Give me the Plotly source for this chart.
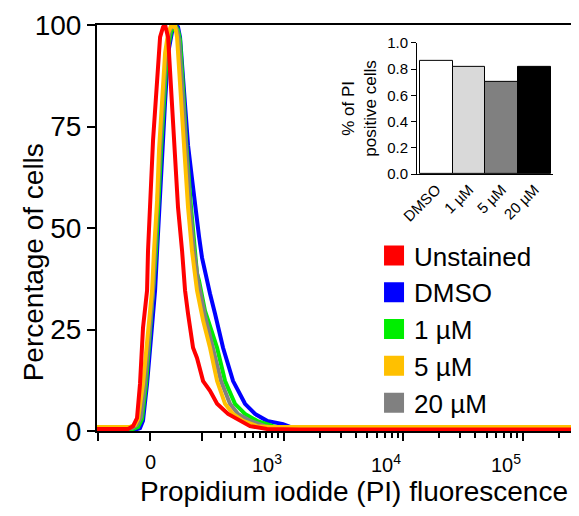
import numpy as np
import plotly.graph_objects as go

# ---------------- data ----------------
# x in biexponential display units (decades; 0 -> value 0), y in % of max
series_names = ["Unstained", "DMSO", "1 µM", "5 µM", "20 µM"]
series_colors = ["#ff0000", "#0000ff", "#00ee00", "#ffc000", "#808080"]

unstained_x = [-0.444, -0.184, -0.142, -0.109, -0.084, -0.059, -0.025, -0.017, 0.025, 0.059, 0.084, 0.109,
               0.126, 0.151, 0.176, 0.201, 0.234, 0.268, 0.293, 0.318, 0.335, 0.360, 0.393, 0.444, 0.502,
               0.561, 0.653, 0.753, 0.837, 0.979, 1.255, 3.54]
unstained_y = [0.5, 0.5, 1.2, 3.2, 11.6, 25.4, 34.6, 44.4, 71.6, 84.7, 97.0, 99.5,
               100, 97.0, 84.7, 69.1, 55.1, 44.4, 34.6, 28.9, 25.4, 20.5, 18.0, 12.3, 9.9,
               6.7, 4.2, 2.5, 1.2, 0.5, 0.4, 0.4]

dmso_x = [-0.444, -0.126, -0.084, -0.059, -0.025, 0.0, 0.042, 0.059, 0.084, 0.100, 0.126, 0.151, 0.184,
          0.218, 0.234, 0.251, 0.285, 0.318, 0.351, 0.377, 0.410, 0.435, 0.460, 0.469, 0.485, 0.502,
          0.544, 0.611, 0.695, 0.795, 0.879, 0.979, 1.113, 1.172, 1.255, 3.54]
dmso_y = [0.3, 0.3, 0.7, 2.5, 11.6, 20.2, 34.6, 44.4, 59.3, 69.1, 81.2, 93.1, 98.3,
          100, 99.5, 97.0, 84.7, 70.4, 62.2, 55.1, 47.9, 42.7, 39.0, 38.0, 36.3, 33.8,
          28.9, 20.5, 12.3, 6.7, 4.2, 2.5, 1.7, 1.0, 0.5, 0.3]

um1_x = [-0.444, -0.142, -0.100, -0.067, -0.033, 0.0, 0.033, 0.050, 0.092, 0.142, 0.176, 0.209, 0.234,
         0.251, 0.276, 0.301, 0.343, 0.377, 0.393, 0.410, 0.460, 0.561, 0.628, 0.711, 0.795, 0.895,
         1.029, 1.130, 3.54]
um1_y = [0.5, 0.5, 1.0, 3.0, 11.6, 24.7, 34.6, 44.4, 69.1, 93.1, 98.3, 100, 98.8,
         96.3, 84.7, 71.6, 55.1, 44.4, 38.8, 37.0, 29.6, 20.5, 12.3, 6.7, 4.2, 2.5,
         1.2, 0.5, 0.3]

um5_x = [-0.444, -0.167, -0.126, -0.100, -0.059, -0.017, 0.017, 0.033, 0.059, 0.075, 0.100, 0.126,
         0.151, 0.176, 0.201, 0.209, 0.226, 0.251, 0.285, 0.318, 0.351, 0.377, 0.393, 0.444, 0.502,
         0.561, 0.628, 0.695, 0.778, 0.895, 1.004, 3.54]
um5_y = [1.0, 1.0, 1.5, 3.0, 11.6, 25.4, 34.6, 44.4, 56.8, 69.1, 81.5, 93.1,
         98.0, 99.8, 99.5, 100, 97.0, 84.7, 71.6, 55.1, 44.4, 37.0, 34.6, 27.2, 20.5,
         12.3, 6.7, 4.2, 2.5, 1.2, 1.0, 1.0]

um20_x = [-0.444, -0.151, -0.109, -0.075, -0.042, 0.0, 0.025, 0.042, 0.084, 0.134, 0.167, 0.201, 0.226,
          0.243, 0.268, 0.293, 0.335, 0.368, 0.402, 0.460, 0.527, 0.594, 0.669, 0.736, 0.837, 0.962,
          1.088, 3.54]
um20_y = [0.7, 0.7, 1.5, 3.5, 11.6, 25.4, 34.6, 44.4, 69.1, 93.1, 98.8, 100, 98.8,
          96.3, 84.7, 71.6, 55.1, 44.4, 37.0, 28.4, 20.5, 12.3, 6.7, 4.2, 2.5, 1.2,
          0.7, 0.5]

# axis ticks (display units) and labels
major_tick_pos = [-0.435, 0.0, 0.435, 1.12, 2.12, 3.12]
label_tick_pos = [0.0, 1.12, 2.12, 3.12]
label_tick_text = ["0", "10<sup>3</sup>", "10<sup>4</sup>", "10<sup>5</sup>"]
minor_100_1000 = [0.594, 0.711, 0.795, 0.862, 0.921, 0.971, 1.021, 1.071]

# inset bar chart
inset_categories = ["DMSO", "1 µM", "5 µM", "20 µM"]
inset_values = [0.86, 0.82, 0.70, 0.82]
inset_colors = ["#ffffff", "#d9d9d9", "#808080", "#000000"]

# --------------- figure ---------------
FONT = "Liberation Sans, Arial, sans-serif"
fig = go.Figure()

curves = {
    "Unstained": (unstained_x, unstained_y),
    "DMSO": (dmso_x, dmso_y),
    "1 µM": (um1_x, um1_y),
    "5 µM": (um5_x, um5_y),
    "20 µM": (um20_x, um20_y),
}
color_of = dict(zip(series_names, series_colors))
draw_order = ["DMSO", "1 µM", "20 µM", "5 µM", "Unstained"]
for name in draw_order:
    xs, ys = curves[name]
    fig.add_trace(go.Scatter(x=xs, y=ys, mode="lines", name=name, showlegend=False,
                             line=dict(color=color_of[name], width=4), hoverinfo="skip"))

# legend entries (filled squares)
for i, name in enumerate(series_names):
    fig.add_trace(go.Scatter(x=[None], y=[None], mode="markers", name=name, legendrank=i + 1,
                             marker=dict(symbol="square", size=16, color=color_of[name],
                                         line=dict(color=color_of[name], width=4))))

# inset bars
fig.add_trace(go.Bar(x=inset_categories, y=inset_values, xaxis="x2", yaxis="y2", showlegend=False,
                     marker=dict(color=inset_colors, line=dict(color="black", width=1)), width=1.0))

minor_ticks = list(minor_100_1000)
for base in [1.12, 2.12]:
    minor_ticks += [base + float(np.log10(m)) for m in range(2, 10)]
minor_ticks.append(3.12 + float(np.log10(2)))

# the page body adds an 8px offset; margins compensate for it
fig.update_layout(
    width=579, height=516,
    margin=dict(l=89, r=14, t=17, b=93, autoexpand=False),
    paper_bgcolor="white", plot_bgcolor="white",
    font=dict(family=FONT, color="black"),
    xaxis=dict(range=[-0.444, 3.54], showgrid=False, zeroline=False, automargin=False,
               showline=True, linecolor="black", linewidth=2, mirror=True,
               tickmode="array", tickvals=major_tick_pos, showticklabels=False,
               ticks="outside", ticklen=8, tickwidth=2, tickcolor="black",
               minor=dict(tickmode="array", tickvals=minor_ticks, ticks="outside",
                          ticklen=5, tickwidth=2, tickcolor="black")),
    yaxis=dict(range=[0, 100], showgrid=False, zeroline=False, automargin=False,
               showline=True, linecolor="black", linewidth=2, mirror=True,
               tickmode="array", tickvals=[0, 25, 50, 75, 100],
               ticks="outside", ticklen=8, tickwidth=2, tickcolor="black",
               tickfont=dict(size=28, family=FONT)),
    xaxis2=dict(domain=[0.6723, 0.958], anchor="y2", range=[-0.59, 3.56], automargin=False,
                showline=True, linecolor="black", linewidth=1, showgrid=False, zeroline=False,
                ticks="", tickangle=-45, tickfont=dict(size=15, family=FONT)),
    yaxis2=dict(domain=[0.633, 0.956], anchor="x2", range=[0, 1.0], automargin=False,
                showline=True, linecolor="black", linewidth=1, showgrid=False, zeroline=False,
                tickmode="array", tickvals=[0, 0.2, 0.4, 0.6, 0.8, 1.0], tickformat=".1f",
                ticks="outside", ticklen=5, tickwidth=1, tickcolor="black",
                tickfont=dict(size=15, family=FONT),
                title=dict(text="% of PI<br>positive cells", font=dict(size=17, family=FONT), standoff=6)),
    bargap=0,
    legend=dict(x=0.582, y=0.49, xanchor="left", yanchor="top", bgcolor="rgba(0,0,0,0)",
                font=dict(size=26, family=FONT), itemsizing="trace", tracegroupgap=0),
    showlegend=True,
)

annotations = []
for pos, txt in zip(label_tick_pos, label_tick_text):
    annotations.append(dict(x=pos, y=0, xref="x", yref="paper", text=txt, showarrow=False,
                            xanchor="center" if pos == 0 else "right", yanchor="top", yshift=-18,
                            font=dict(size=20, family=FONT)))
annotations.append(dict(x=-0.134, y=0.416, xref="paper", yref="paper", text="Percentage of cells",
                        textangle=-90, showarrow=False, xanchor="center", yanchor="middle",
                        font=dict(size=28, family=FONT)))
annotations.append(dict(x=0.54, y=-0.150, xref="paper", yref="paper",
                        text="Propidium iodide (PI) fluorescence", showarrow=False,
                        xanchor="center", yanchor="middle", font=dict(size=28, family=FONT)))
fig.update_layout(annotations=annotations)

fig.write_html("out.html")
